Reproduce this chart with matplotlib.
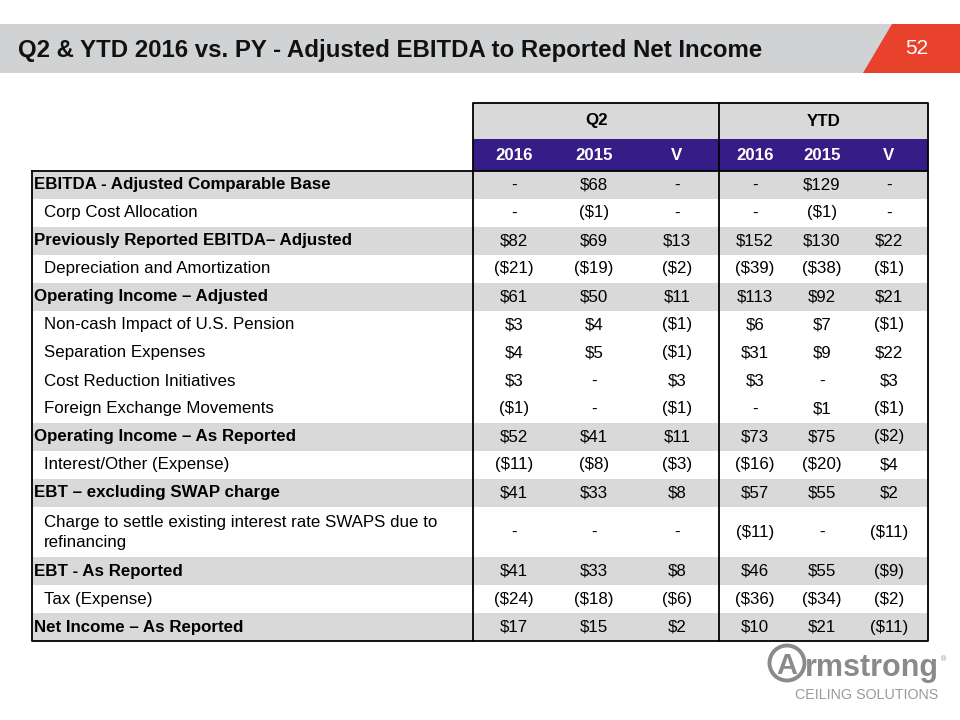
import matplotlib.pyplot as plt
from matplotlib.patches import Rectangle, Polygon, Circle

# === 1. Datos de la tabla ===
labels = [
    "EBITDA - Adjusted Comparable Base",
    "Corp Cost Allocation",
    "Previously Reported EBITDA\u2013 Adjusted",
    "Depreciation and Amortization",
    "Operating Income \u2013 Adjusted",
    "Non-cash Impact of U.S. Pension",
    "Separation Expenses",
    "Cost Reduction Initiatives",
    "Foreign Exchange Movements",
    "Operating Income \u2013 As Reported",
    "Interest/Other (Expense)",
    "EBT \u2013 excluding SWAP charge",
    "Charge to settle existing interest rate SWAPS due to\nrefinancing",
    "EBT - As Reported",
    "Tax (Expense)",
    "Net Income \u2013 As Reported",
]
is_total = [True, False, True, False, True, False, False, False, False,
            True, False, True, False, True, False, True]
q2_2016 = ["-", "-", "$82", "($21)", "$61", "$3", "$4", "$3", "($1)",
           "$52", "($11)", "$41", "-", "$41", "($24)", "$17"]
q2_2015 = ["$68", "($1)", "$69", "($19)", "$50", "$4", "$5", "-", "-",
           "$41", "($8)", "$33", "-", "$33", "($18)", "$15"]
q2_v = ["-", "-", "$13", "($2)", "$11", "($1)", "($1)", "$3", "($1)",
        "$11", "($3)", "$8", "-", "$8", "($6)", "$2"]
ytd_2016 = ["-", "-", "$152", "($39)", "$113", "$6", "$31", "$3", "-",
            "$73", "($16)", "$57", "($11)", "$46", "($36)", "$10"]
ytd_2015 = ["$129", "($1)", "$130", "($38)", "$92", "$7", "$9", "-", "$1",
            "$75", "($20)", "$55", "-", "$55", "($34)", "$21"]
ytd_v = ["-", "-", "$22", "($1)", "$21", "($1)", "$22", "$3", "($1)",
         "($2)", "$4", "$2", "($11)", "($9)", "($2)", "($11)"]
groups = ["Q2", "YTD"]
years = ["2016", "2015", "V"]

title = "Q2 & YTD 2016 vs. PY - Adjusted EBITDA to Reported Net Income"
page = "52"

# === 2. Estilo ===
GRAY_ROW = "#d9d9d9"
PURPLE = "#361c87"
RED = "#e8412c"
BAR = "#d1d2d4"
FONT = ["Liberation Sans", "DejaVu Sans"]
FS = 12.2

fig = plt.figure(figsize=(9.6, 7.2), dpi=100)
ax = fig.add_axes([0, 0, 1, 1])
ax.set_xlim(0, 960)
ax.set_ylim(720, 0)
ax.axis("off")

# === 3. Barra de título ===
ax.add_patch(Rectangle((0, 24), 960, 49, color=BAR, lw=0))
ax.add_patch(Polygon([(892, 24), (960, 24), (960, 73), (863, 73)],
                     closed=True, color=RED, lw=0))
ax.text(18, 50, title, fontsize=17.3, fontweight="bold", family=FONT,
        va="center", ha="left", color="#111111")
ax.text(917, 48, page, fontsize=15, family=FONT, color="white",
        va="center", ha="center")

# === 4. Tabla ===
x_left, x_lab, x_mid, x_right = 32, 473, 719, 928
col_x = [514, 594, 677, 755, 822, 889]
cols = [q2_2016, q2_2015, q2_v, ytd_2016, ytd_2015, ytd_v]
y_head, y_purple, y_body = 103, 139, 171
row_h = 28

# encabezado
ax.add_patch(Rectangle((x_lab, y_head), x_right - x_lab, y_purple - y_head,
                       color=GRAY_ROW, lw=0))
ax.add_patch(Rectangle((x_lab, y_purple), x_right - x_lab, y_body - y_purple,
                       color=PURPLE, lw=0))
for g, gx in zip(groups, [(x_lab + x_mid) / 2, (x_mid + x_right) / 2]):
    ax.text(gx, (y_head + y_purple) / 2, g, fontsize=FS, fontweight="bold",
            family=FONT, ha="center", va="center")
for i, cx in enumerate(col_x):
    ax.text(cx, (y_purple + y_body) / 2, years[i % 3], fontsize=FS,
            fontweight="bold", family=FONT, ha="center", va="center",
            color="white")

# filas
y = y_body
for i, lab in enumerate(labels):
    h = row_h * (1 + 0.8 * lab.count("\n"))
    if is_total[i]:
        ax.add_patch(Rectangle((x_left, y), x_right - x_left, h,
                               color=GRAY_ROW, lw=0))
    ax.text(x_left + (2 if is_total[i] else 12), y + h / 2, lab,
            fontsize=FS, family=FONT, va="center", ha="left",
            fontweight="bold" if is_total[i] else "normal",
            linespacing=1.45)
    for cx, col in zip(col_x, cols):
        ax.text(cx, y + h / 2, col[i], fontsize=FS, family=FONT,
                ha="center", va="center")
    y += h
y_end = y

# bordes
lw = 1.3
ax.plot([x_left, x_right, x_right, x_left, x_left],
        [y_body, y_body, y_end, y_end, y_body], color="black", lw=lw)
ax.plot([x_lab, x_lab, x_right, x_right], [y_body, y_head, y_head, y_body],
        color="black", lw=lw)
ax.plot([x_lab, x_lab], [y_body, y_end], color="black", lw=lw)
ax.plot([x_mid, x_mid], [y_head, y_end], color="black", lw=lw)

# === 5. Logo ===
LOGO = "#8a8a8a"
ax.add_patch(Circle((787, 663), 17.5, fill=False, ec=LOGO, lw=2.8))
ax.text(787, 666, "A", fontsize=21, fontweight="bold", family=FONT,
        color=LOGO, va="center", ha="center")
ax.text(805, 676, "rmstrong", fontsize=22, fontweight="bold", family=FONT,
        color=LOGO, va="baseline", ha="left")
ax.text(941, 660, "\u00ae", fontsize=5, family=FONT, color=LOGO,
        va="center", ha="left")
ax.text(938, 695, "CEILING SOLUTIONS", fontsize=10.3, family=FONT,
        color="#9a9a9a", va="center", ha="right")

# === 6. Guardar ===
fig.savefig("out.png", dpi=100)
plt.close(fig)
